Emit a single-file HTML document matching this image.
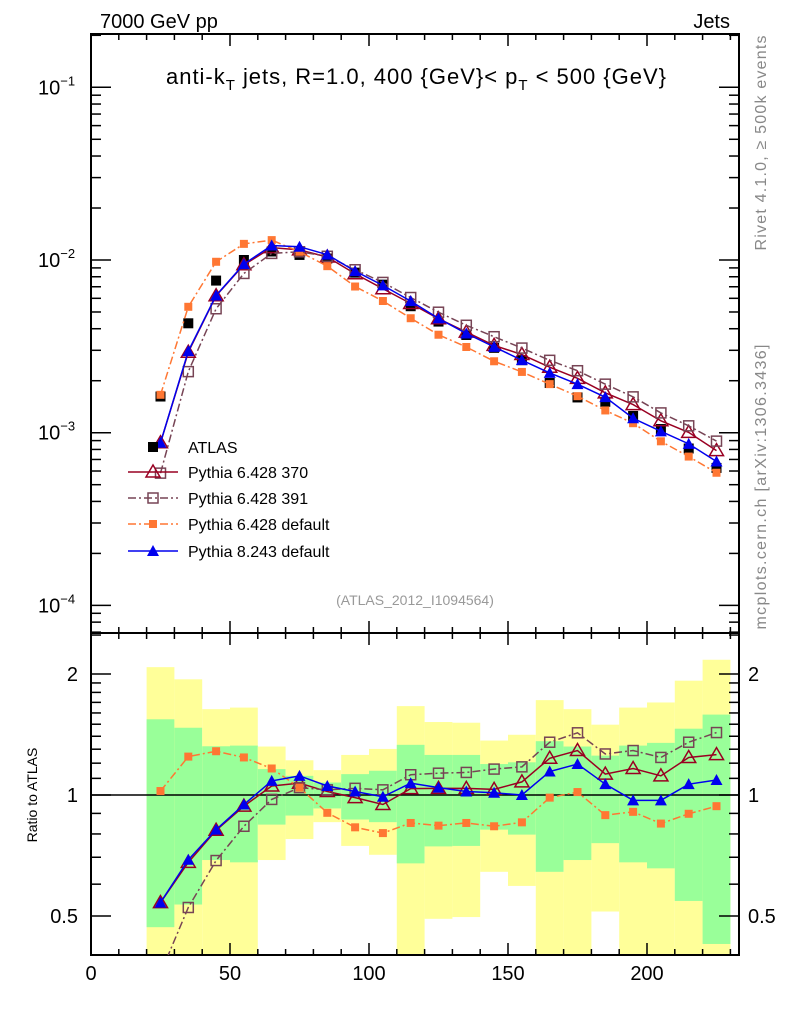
<!DOCTYPE html>
<html><head><meta charset="utf-8"><style>
html,body{margin:0;padding:0;background:#fff;}
svg{display:block;font-family:"Liberation Sans",Arial,sans-serif;}
</style></head><body>
<svg id="chart" width="786" height="1024" viewBox="0 0 786 1024" xmlns="http://www.w3.org/2000/svg">
<g id="ratioBands"></g>
<g id="grid"></g>
<g id="series"></g>
<text x="100" y="28" font-size="20">7000 GeV pp</text>
<text x="730" y="28" font-size="20" text-anchor="end">Jets</text>
<text x="416" y="84" font-size="22" text-anchor="middle" textLength="500">anti-k<tspan font-size="15" dy="6">T</tspan><tspan dy="-6"> jets, R=1.0, 400 {GeV}&lt; p</tspan><tspan font-size="15" dy="6">T</tspan><tspan dy="-6"> &lt; 500 {GeV}</tspan></text>
<text x="415" y="605" font-size="14" fill="#999" text-anchor="middle">(ATLAS_2012_I1094564)</text>
<text transform="translate(766,143) rotate(-90)" font-size="16" fill="#888" text-anchor="middle" textLength="215">Rivet 4.1.0, ≥ 500k events</text>
<text transform="translate(766,487) rotate(-90)" font-size="16" fill="#888" text-anchor="middle" textLength="285">mcplots.cern.ch [arXiv:1306.3436]</text>
<text transform="translate(37,795) rotate(-90)" font-size="14" text-anchor="middle">Ratio to ATLAS</text>
<g id="legend"></g>
</svg>
<script>
const binCenters=[25,35,45,55,65,75,85,95,105,115,125,135,145,155,165,175,185,195,205,215,225];
const atlasValues=[1.62e-3,4.3e-3,7.6e-3,1.0e-2,1.12e-2,1.07e-2,1.02e-2,8.45e-3,7.2e-3,5.4e-3,4.4e-3,3.68e-3,3.1e-3,2.63e-3,1.94e-3,1.6e-3,1.51e-3,1.25e-3,1.05e-3,8.1e-4,6.25e-4];
const ratioPy370=[0.54,0.68,0.817,0.938,1.053,1.07,1.02,0.985,0.947,1.037,1.039,1.039,1.033,1.078,1.234,1.29,1.127,1.164,1.116,1.24,1.26];
const ratioPy391=[0.36,0.525,0.687,0.836,0.975,1.043,1.03,1.039,1.03,1.123,1.133,1.138,1.16,1.175,1.353,1.428,1.265,1.29,1.24,1.353,1.43];
const ratioPy6def=[1.023,1.246,1.285,1.24,1.164,1.043,0.903,0.831,0.804,0.852,0.839,0.852,0.836,0.855,0.985,1.017,0.891,0.908,0.849,0.898,0.938];
const ratioPy8def=[0.54,0.69,0.82,0.947,1.084,1.116,1.053,1.02,0.99,1.07,1.043,1.02,1.013,1.0,1.144,1.194,1.064,0.97,0.97,1.064,1.09];
const band2Up=[2.08,1.94,1.635,1.65,1.32,1.22,1.153,1.258,1.302,1.664,1.519,1.513,1.366,1.412,1.722,1.635,1.496,1.65,1.699,1.925,2.17];
const band2Dn=[0.3,0.3,0.3,0.3,0.689,0.777,0.856,0.747,0.71,0.3,0.492,0.497,0.644,0.594,0.3,0.3,0.513,0.3,0.3,0.3,0.3];
const band1Up=[1.543,1.47,1.322,1.327,1.16,1.116,1.074,1.127,1.149,1.333,1.258,1.258,1.194,1.206,1.361,1.32,1.253,1.327,1.348,1.462,1.585];
const band1Dn=[0.469,0.534,0.689,0.68,0.844,0.889,0.926,0.869,0.856,0.676,0.745,0.747,0.82,0.797,0.644,0.689,0.759,0.68,0.657,0.545,0.426];
const xTickLabels=[0,50,100,150,200];
const binWidth=10;

const NS="http://www.w3.org/2000/svg";
const L=91,R=739,MT=34,MB=633,RB=955;
const sx=x=>L+x*2.78;
const sy=v=>260-172.7*(Math.log10(v)+2);
const ry=r=>795-121*Math.log2(r);
function mk(tag,attrs,parent){const e=document.createElementNS(NS,tag);for(const k in attrs)e.setAttribute(k,attrs[k]);parent.appendChild(e);return e;}
const gB=document.getElementById('ratioBands'),gG=document.getElementById('grid'),gS=document.getElementById('series'),gL=document.getElementById('legend');
const clampR=r=>Math.min(Math.max(ry(r),MB),RB);
binCenters.forEach((c,i)=>{
  const x0=sx(c-binWidth/2),x1=sx(c+binWidth/2);
  const y=mk('rect',{x:x0,y:clampR(band2Up[i]),width:x1-x0,height:clampR(band2Dn[i])-clampR(band2Up[i]),fill:'#ffff99'},gB);
  
  
  const g=mk('rect',{x:x0,y:clampR(band1Up[i]),width:x1-x0,height:clampR(band1Dn[i])-clampR(band1Up[i]),fill:'#99ff99'},gB);
  
  
});
const f1=mk('rect',{x:L,y:MT,width:R-L,height:MB-MT,fill:'none',stroke:'#000','stroke-width':2},gG);


const f2=mk('rect',{x:L,y:MB,width:R-L,height:RB-MB,fill:'none',stroke:'#000','stroke-width':2},gG);


const one=mk('line',{x1:L,x2:R,y1:ry(1),y2:ry(1),stroke:'#000','stroke-width':1.5},gG);


for(let x=0;x<=230;x+=10){
  const len=(x%50===0)?12:6, X=sx(x);
  mk('line',{x1:X,x2:X,y1:MT,y2:MT+len,stroke:'#000','stroke-width':1.5},gG);
  mk('line',{x1:X,x2:X,y1:MB,y2:MB+len,stroke:'#000','stroke-width':1.5},gG);
  mk('line',{x1:X,x2:X,y1:MB,y2:MB-len,stroke:'#000','stroke-width':1.5},gG);
  mk('line',{x1:X,x2:X,y1:RB,y2:RB-len,stroke:'#000','stroke-width':1.5},gG);
}
xTickLabels.forEach(v=>{const t=mk('text',{x:sx(v),y:980,'font-size':20,'text-anchor':'middle'},gG);t.textContent=v;

});
for(let e=-5;e<=-1;e++){for(let m=1;m<=9;m++){const v=m*Math.pow(10,e);const Y=sy(v);if(Y<MT||Y>MB)continue;const len=m===1?20:10;
 mk('line',{x1:L,x2:L+len,y1:Y,y2:Y,stroke:'#000','stroke-width':1.5},gG);mk('line',{x1:R,x2:R-len,y1:Y,y2:Y,stroke:'#000','stroke-width':1.5},gG);}
 if(sy(Math.pow(10,e))>=MT&&sy(Math.pow(10,e))<=MB){const t=mk('text',{x:38,y:sy(Math.pow(10,e))+7,'font-size':20},gG);
 t.innerHTML='10<tspan font-size="13" dy="-9">'+('−'+(-e))+'</tspan>';
 
 }}
[0.4,0.5,0.6,0.7,0.8,0.9,1,1.1,1.2,1.3,1.4,1.5,1.6,1.7,1.8,1.9,2,2.5].forEach(r=>{const Y=ry(r);if(Y<MB||Y>RB)return;const maj=(r===0.5||r===1||r===2);const len=maj?20:10;
 mk('line',{x1:L,x2:L+len,y1:Y,y2:Y,stroke:'#000','stroke-width':1.5},gG);mk('line',{x1:R,x2:R-len,y1:Y,y2:Y,stroke:'#000','stroke-width':1.5},gG);
 if(maj){const lab=r===0.5?'0.5':String(r);
 const a=mk('text',{x:78,y:Y+7,'font-size':20,'text-anchor':'end'},gG);a.textContent=lab;
 
 
 const b=mk('text',{x:748,y:Y+7,'font-size':20},gG);b.textContent=lab;
 
 }});
function marker(type,x,y,col,parent){
  if(type==='fsq') return mk('rect',{x:x-5,y:y-5,width:10,height:10,fill:col},parent);
  if(type==='sfsq') return mk('rect',{x:x-4,y:y-4,width:8,height:8,fill:col},parent);
  if(type==='osq') return mk('rect',{x:x-5,y:y-5,width:10,height:10,fill:'none',stroke:col,'stroke-width':1.5},parent);
  if(type==='otri') return mk('polygon',{points:`${x},${y-7} ${x-7},${y+5} ${x+7},${y+5}`,fill:'none',stroke:col,'stroke-width':1.5},parent);
  if(type==='ftri') return mk('polygon',{points:`${x},${y-6} ${x-6},${y+5} ${x+6},${y+5}`,fill:col},parent);
}
const series=[
 {name:'pythia-6428-370',label:'Pythia 6.428 370',r:ratioPy370,col:'#990022',m:'otri',dash:''},
 {name:'pythia-6428-391',label:'Pythia 6.428 391',r:ratioPy391,col:'#774455',m:'osq',dash:'8,3,2,3'},
 {name:'pythia-6428-default',label:'Pythia 6.428 default',r:ratioPy6def,col:'#ff7733',m:'sfsq',dash:'8,3,2,3'},
 {name:'pythia-8243-default',label:'Pythia 8.243 default',r:ratioPy8def,col:'#0000ee',m:'ftri',dash:''}
];
function clipG(id,y0,y1){const cp=mk('clipPath',{id:id},gS);mk('rect',{x:L,y:y0,width:R-L,height:y1-y0},cp);}
clipG('cm',MT,MB);clipG('cr',MB,RB);
const gm=mk('g',{'clip-path':'url(#cm)'},gS),gr=mk('g',{'clip-path':'url(#cr)'},gS);
binCenters.forEach((c,i)=>{const p=marker('fsq',sx(c),sy(atlasValues[i]),'#000',gm);

});
series.forEach(s=>{
  const pm=binCenters.map((c,i)=>sx(c)+','+sy(atlasValues[i]*s.r[i])).join(' ');
  const pr=binCenters.map((c,i)=>sx(c)+','+ry(s.r[i])).join(' ');
  const l1=mk('polyline',{points:pm,fill:'none',stroke:s.col,'stroke-width':1.5,'stroke-dasharray':s.dash},gm);
  
  
  const l2=mk('polyline',{points:pr,fill:'none',stroke:s.col,'stroke-width':1.5,'stroke-dasharray':s.dash},gr);
  
  
  binCenters.forEach((c,i)=>{
    const a=marker(s.m,sx(c),sy(atlasValues[i]*s.r[i]),s.col,gm);
    
    
    const b=marker(s.m,sx(c),ry(s.r[i]),s.col,gr);
    
    
  });
});
const ly=[447,472,498,524,551];
const le=mk('g',{},gL);
marker('fsq',153,ly[0],'#000',le);
const t0=mk('text',{x:188,y:ly[0]+6,'font-size':16},le);t0.textContent='ATLAS';
series.forEach((s,i)=>{const g=mk('g',{},gL);
 
 
 const y=ly[i+1];
 mk('line',{x1:128,x2:178,y1:y,y2:y,stroke:s.col,'stroke-width':1.5,'stroke-dasharray':s.dash},g);
 marker(s.m,153,y,s.col,g);
 const t=mk('text',{x:188,y:y+6,'font-size':16},g);t.textContent=s.label;});
</script>
</body></html>
